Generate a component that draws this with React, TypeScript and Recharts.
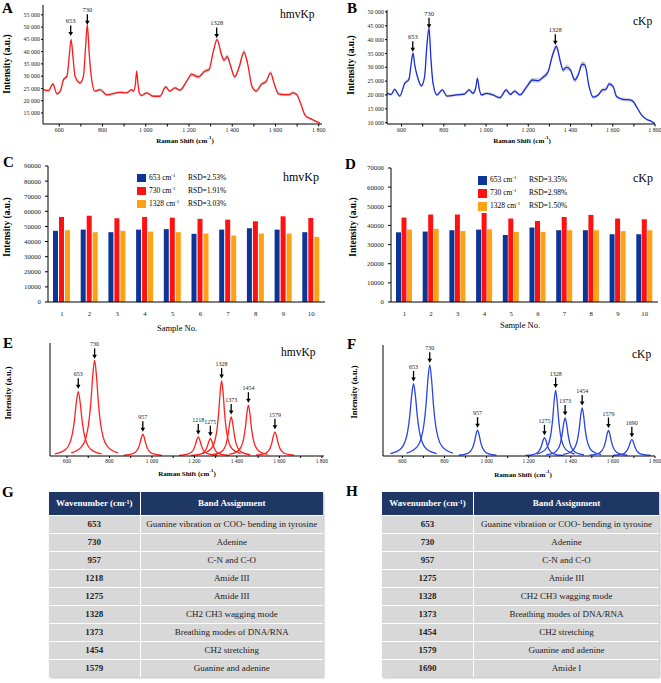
import React from 'react'
import { ComposedChart, BarChart, Line, Area, Bar, XAxis, YAxis, ReferenceDot } from 'recharts'

const SERIF = '"Liberation Serif", "Times New Roman", serif'

// ---- A / B : mean Raman spectra (± SD band) ----
const ramanShiftA = [
  525, 551, 571, 589, 605, 620, 636, 646, 655, 664,
  673, 697, 712, 722, 730, 738, 750, 765, 789, 820,
  881, 912, 935, 943, 952, 958, 964, 970, 981, 1004,
  1035, 1066, 1092, 1112, 1135, 1158, 1189, 1212, 1243, 1273,
  1293, 1311, 1330, 1350, 1362, 1377, 1393, 1411, 1431, 1454,
  1472, 1491, 1511, 1534, 1557, 1577, 1595, 1614, 1634, 1664,
  1680, 1698, 1718, 1738, 1764, 1787, 1805,
]
const hmvMean = [
  24500, 24100, 26800, 22800, 23900, 28600, 30000, 38000, 44900, 37500,
  30000, 27300, 30000, 42000, 51000, 40000, 28600, 23900, 24500, 22400,
  23400, 23200, 24500, 23900, 26500, 32000, 27000, 23200, 22100, 23200,
  21800, 21800, 25600, 23900, 25200, 24300, 27900, 30700, 29700, 32000,
  32700, 39500, 44900, 38800, 36500, 37900, 34000, 29700, 33400, 39800,
  34700, 25900, 23900, 26600, 27900, 31300, 26600, 22800, 22500, 22500,
  23200, 22500, 18400, 13900, 12600, 11600, 10900,
]
const hmvSd = [
  500, 500, 600, 500, 500, 600, 700, 900, 1000, 900,
  700, 600, 700, 900, 1000, 900, 600, 500, 500, 500,
  500, 500, 500, 500, 600, 700, 600, 500, 500, 500,
  500, 500, 600, 500, 600, 600, 700, 800, 800, 800,
  800, 900, 1000, 900, 900, 1000, 900, 800, 900, 1100,
  900, 700, 600, 700, 700, 800, 700, 600, 600, 600,
  600, 600, 500, 400, 400, 300, 300,
]

const ramanShiftB = [
  531, 551, 567, 591, 615, 635, 645, 654, 663, 673,
  694, 709, 720, 730, 739, 749, 768, 793, 815, 860,
  899, 920, 938, 951, 959, 967, 978, 1002, 1033, 1065,
  1096, 1115, 1136, 1160, 1191, 1220, 1247, 1270, 1294, 1313,
  1333, 1352, 1365, 1381, 1400, 1420, 1436, 1455, 1468, 1488,
  1507, 1531, 1551, 1567, 1583, 1602, 1618, 1649, 1681, 1697,
  1712, 1736, 1760, 1784, 1799,
]
const ckpMean = [
  20600, 20200, 22000, 19600, 24200, 25700, 31000, 35100, 30500, 27200,
  23300, 26600, 38000, 44100, 33000, 24200, 20000, 21800, 19600, 20000,
  20400, 21800, 20600, 22500, 26000, 22500, 20000, 20600, 20000, 19000,
  21800, 20200, 21400, 20000, 22800, 25400, 25200, 26400, 28400, 33900,
  37500, 32000, 29000, 30000, 29000, 25400, 27200, 31100, 30800, 23000,
  19200, 20000, 21800, 22000, 24000, 23000, 19400, 18400, 18200, 17600,
  15800, 12800, 11200, 10400, 9600,
]
const ckpSd = [
  500, 500, 500, 500, 600, 700, 800, 900, 800, 700,
  600, 700, 900, 1000, 900, 600, 500, 500, 500, 500,
  500, 500, 500, 600, 700, 600, 500, 500, 500, 500,
  600, 500, 600, 500, 700, 800, 800, 800, 900, 1000,
  1100, 1000, 900, 1000, 900, 800, 900, 1100, 1000, 800,
  600, 600, 700, 700, 800, 700, 600, 600, 600, 600,
  500, 400, 300, 300, 300,
]

const ramanTicks = [600, 700, 800, 900, 1000, 1100, 1200, 1300, 1400, 1500, 1600, 1700, 1800]
const ticksA = [15000, 20000, 25000, 30000, 35000, 40000, 45000, 50000, 55000]
const ticksB = [10000, 15000, 20000, 25000, 30000, 35000, 40000, 45000, 50000]

// arrow annotations: [wavenumber, arrow tip intensity]
const annA = [[653, 46400], [730, 50900], [1328, 45600]]
const annB = [[653, 35650], [730, 44100], [1328, 38100]]

// ---- C / D : repeatability over 10 samples ----
const sampleNo = ['1', '2', '3', '4', '5', '6', '7', '8', '9', '10']
const hmv653 = [47100, 47900, 46200, 47900, 48200, 45100, 47900, 48800, 47900, 46200]
const hmv730 = [56300, 57100, 55400, 56300, 55800, 55000, 54500, 53400, 56700, 55600]
const hmv1328 = [47500, 46200, 47100, 46600, 46200, 45300, 44000, 45300, 45300, 43100]
const ckp653 = [36400, 36800, 37500, 37800, 35000, 38900, 37500, 37500, 35400, 35400]
const ckp730 = [44100, 45700, 45700, 46500, 43600, 42300, 44400, 45500, 43600, 43200]
const ckp1328 = [37800, 38200, 37100, 38000, 36600, 36600, 37500, 37500, 37000, 37500]
const hmvRsd = ['RSD=2.53%', 'RSD=1.91%', 'RSD=3.03%']
const ckpRsd = ['RSD=3.35%', 'RSD=2.98%', 'RSD=1.50%']
const bandNames = ['653', '730', '1328']

// ---- E / F : fitted characteristic peaks ----
const hmvP653 = [[543, .018], [593, .057], [613, .114], [625, .193], [635, .315], [644, .475], [653, .57], [662, .475], [671, .315], [681, .193], [693, .114], [713, .057], [763, .018]]
const hmvP730 = [[620, .027], [670, .085], [690, .169], [702, .286], [712, .466], [721, .703], [730, .845], [739, .703], [748, .466], [758, .286], [770, .169], [790, .085], [840, .027]]
const hmvP957 = [[867, .006], [907, .018], [925, .039], [935, .067], [943, .109], [950, .162], [957, .193], [964, .162], [971, .109], [979, .067], [989, .039], [1007, .018], [1047, .006]]
const hmvP1218 = [[1128, .005], [1168, .016], [1186, .034], [1196, .058], [1204, .096], [1211, .142], [1218, .169], [1225, .142], [1232, .096], [1240, .058], [1250, .034], [1268, .016], [1308, .005]]
const hmvP1275 = [[1185, .005], [1225, .014], [1243, .031], [1253, .054], [1261, .088], [1268, .13], [1275, .155], [1282, .13], [1289, .088], [1297, .054], [1307, .031], [1325, .014], [1365, .005]]
const hmvP1328 = [[1238, .021], [1278, .062], [1296, .133], [1306, .231], [1314, .378], [1321, .56], [1328, .667], [1335, .56], [1342, .378], [1350, .231], [1360, .133], [1378, .062], [1418, .021]]
const hmvP1373 = [[1283, .011], [1323, .032], [1341, .069], [1351, .12], [1359, .196], [1366, .291], [1373, .347], [1380, .291], [1387, .196], [1395, .12], [1405, .069], [1423, .032], [1463, .011]]
const hmvP1454 = [[1364, .014], [1404, .042], [1422, .09], [1432, .156], [1440, .255], [1447, .379], [1454, .451], [1461, .379], [1468, .255], [1476, .156], [1486, .09], [1504, .042], [1544, .014]]
const hmvP1579 = [[1489, .007], [1529, .02], [1547, .043], [1557, .074], [1565, .121], [1572, .18], [1579, .214], [1586, .18], [1593, .121], [1601, .074], [1611, .043], [1629, .02], [1669, .007]]

const ckpP653 = [[543, .021], [593, .065], [613, .13], [625, .22], [635, .359], [644, .542], [653, .651], [662, .542], [671, .359], [681, .22], [693, .13], [713, .065], [763, .021]]
const ckpP730 = [[620, .026], [670, .082], [690, .164], [702, .277], [712, .453], [721, .683], [730, .821], [739, .683], [748, .453], [758, .277], [770, .164], [790, .082], [840, .026]]
const ckpP957 = [[867, .007], [907, .022], [925, .047], [935, .081], [943, .132], [950, .196], [957, .233], [964, .196], [971, .132], [979, .081], [989, .047], [1007, .022], [1047, .007]]
const ckpP1275 = [[1185, .005], [1225, .015], [1243, .033], [1253, .057], [1261, .093], [1268, .139], [1275, .165], [1282, .139], [1289, .093], [1297, .057], [1307, .033], [1325, .015], [1365, .005]]
const ckpP1328 = [[1238, .018], [1278, .055], [1296, .118], [1306, .204], [1314, .335], [1321, .496], [1328, .591], [1335, .496], [1342, .335], [1350, .204], [1360, .118], [1378, .055], [1418, .018]]
const ckpP1373 = [[1283, .011], [1323, .032], [1341, .069], [1351, .119], [1359, .195], [1366, .289], [1373, .344], [1380, .289], [1387, .195], [1395, .119], [1405, .069], [1423, .032], [1463, .011]]
const ckpP1454 = [[1364, .013], [1404, .04], [1422, .087], [1432, .15], [1440, .245], [1447, .364], [1454, .433], [1461, .364], [1468, .245], [1476, .15], [1486, .087], [1504, .04], [1544, .013]]
const ckpP1579 = [[1489, .007], [1529, .021], [1547, .046], [1557, .08], [1565, .13], [1572, .193], [1579, .23], [1586, .193], [1593, .13], [1601, .08], [1611, .046], [1629, .021], [1669, .007]]
const ckpP1690 = [[1600, .005], [1640, .014], [1658, .03], [1668, .052], [1676, .085], [1683, .126], [1690, .15], [1697, .126], [1704, .085], [1712, .052], [1722, .03], [1740, .014], [1780, .005]]

const hmvPeaks = [hmvP653, hmvP730, hmvP957, hmvP1218, hmvP1275, hmvP1328, hmvP1373, hmvP1454, hmvP1579]
const ckpPeaks = [ckpP653, ckpP730, ckpP957, ckpP1275, ckpP1328, ckpP1373, ckpP1454, ckpP1579, ckpP1690]
const annE = [[653, .595], [730, .86], [957, .215], [1218, .19], [1275, .175], [1328, .685], [1373, .367], [1454, .472], [1579, .236]]
const annF = [[653, .672], [730, .84], [957, .255], [1275, .186], [1328, .612], [1373, .365], [1454, .455], [1579, .252], [1690, .17]]

// ---- G / H : band assignment tables ----
const bandsG = ['653', '730', '957', '1218', '1275', '1328', '1373', '1454', '1579']
const assignG = [
  'Guanine vibration or COO- bending in tyrosine', 'Adenine', 'C-N and C-O', 'Amide III', 'Amide III',
  'CH2 CH3 wagging mode', 'Breathing modes of DNA/RNA', 'CH2 stretching', 'Guanine and adenine',
]
const bandsH = ['653', '730', '957', '1275', '1328', '1373', '1454', '1579', '1690']
const assignH = [
  'Guanine vibration or COO- bending in tyrosine', 'Adenine', 'C-N and C-O', 'Amide III',
  'CH2 CH3 wagging mode', 'Breathing modes of DNA/RNA', 'CH2 stretching', 'Guanine and adenine', 'Amide I',
]

// non-breaking space so recharts does not wrap "55 000" onto two lines
const spaced = (n: number) => String(n).replace(/\B(?=(\d{3})+(?!\d))/g, '\u00a0')

function arrowShape(label: string, fontSize: number) {
  return (p: any) => {
    const { cx, cy } = p
    if (cx == null || cy == null) return <g />
    return (
      <g>
        <text x={cx} y={cy - 12.5} textAnchor="middle" fontSize={fontSize} fontFamily={SERIF} fill="#222">{label}</text>
        <line x1={cx} y1={cy - 10.5} x2={cx} y2={cy - 3} stroke="#000" strokeWidth={1.3} />
        <path d={`M${cx - 2.3} ${cy - 4}L${cx + 2.3} ${cy - 4}L${cx} ${cy}Z`} fill="#000" />
      </g>
    )
  }
}

const abs = (left: number, top: number): React.CSSProperties => ({ position: 'absolute', left, top })

function PanelLetter({ left, top, text }: { left: number; top: number; text: string }) {
  return <div style={{ ...abs(left, top), fontFamily: SERIF, fontWeight: 'bold', fontSize: 15, lineHeight: '15px' }}>{text}</div>
}

function YLabel({ cx, cy, size = 9.5 }: { cx: number; cy: number; size?: number }) {
  return (
    <div style={{ ...abs(cx, cy), transform: 'translate(-50%,-50%) rotate(-90deg)', whiteSpace: 'nowrap', fontFamily: SERIF, fontWeight: 'bold', fontSize: size, lineHeight: 1 }}>
      Intensity (a.u.)
    </div>
  )
}

function XLabel({ cx, cy, children, bold = true, size = 7 }: any) {
  return (
    <div style={{ ...abs(cx, cy), transform: 'translate(-50%,-50%)', whiteSpace: 'nowrap', fontFamily: SERIF, fontWeight: bold ? 'bold' : 'normal', fontSize: size, lineHeight: 1 }}>
      {children}
    </div>
  )
}

function Title({ left, cy, text, size = 11.5 }: { left: number; cy: number; text: string; size?: number }) {
  return <div style={{ ...abs(left, cy - size / 2), fontFamily: SERIF, fontSize: size, lineHeight: `${size}px`, whiteSpace: 'nowrap' }}>{text}</div>
}

const smallTick = { fontSize: 6, fontFamily: SERIF, fill: '#222' }

function SpectrumChart({ left, top, width, height, margin, xs, mean, sd, color, xDomain, yDomain, yTicks, ann }: any) {
  const data = xs.map((x: number, i: number) => ({ x, y: mean[i], band: [mean[i] - sd[i], mean[i] + sd[i]] }))
  return (
    <div style={abs(left, top)}>
      <ComposedChart width={width} height={height} data={data} margin={margin}>
        <XAxis dataKey="x" type="number" domain={xDomain} allowDataOverflow ticks={ramanTicks} interval={0}
          tickFormatter={(v: number) => (v % 200 === 0 ? spaced(v) : '')}
          tick={smallTick} tickSize={2.5} tickMargin={1} height={11} stroke="#000" />
        <XAxis xAxisId="top" orientation="top" dataKey="x" type="number" domain={xDomain} allowDataOverflow
          tick={false} tickLine={false} height={0} stroke="#8a8a8a" />
        <YAxis type="number" domain={yDomain} allowDataOverflow ticks={yTicks} interval={0} tickFormatter={spaced}
          tick={smallTick} tickSize={2} tickMargin={1} width={30} stroke="#000" />
        <YAxis yAxisId="right" orientation="right" type="number" domain={yDomain} tick={false} tickLine={false} width={0} stroke="#6a6a6a" />
        <Area dataKey="band" type="monotone" stroke="none" fill="#c6c6cc" fillOpacity={0.9} isAnimationActive={false} />
        <Line dataKey="y" type="monotone" stroke={color} strokeWidth={1.3} dot={false} isAnimationActive={false} />
        {ann.map(([ax, ay]: number[]) => (
          <ReferenceDot key={ax} x={ax} y={ay} shape={arrowShape(String(ax), 6.5)} />
        ))}
      </ComposedChart>
    </div>
  )
}

const BAR_COLORS = ['#0b3597', '#ff1111', '#ffa114']

function BarPanel({ left, top, width, height, margin, yMax, yTicks, s1, s2, s3, gap }: any) {
  const data = sampleNo.map((n, i) => ({ n, a: s1[i], b: s2[i], c: s3[i] }))
  const tick = { fontSize: 6.8, fontFamily: SERIF, fill: '#222' }
  return (
    <div style={abs(left, top)}>
      <BarChart width={width} height={height} data={data} margin={margin} barSize={5} barGap={gap}>
        <XAxis dataKey="n" tick={tick} tickLine={false} height={14} stroke="#000" tickMargin={3} interval={0} />
        <XAxis xAxisId="top" orientation="top" dataKey="n" tick={false} tickLine={false} height={0} stroke="#555" />
        <YAxis domain={[0, yMax]} ticks={yTicks} interval={0} tick={tick} tickSize={3} tickMargin={4} width={34} stroke="#000" />
        <YAxis yAxisId="right" orientation="right" domain={[0, yMax]} tick={false} tickLine={false} width={0} stroke="#555" />
        <Bar dataKey="a" fill={BAR_COLORS[0]} isAnimationActive={false} />
        <Bar dataKey="b" fill={BAR_COLORS[1]} isAnimationActive={false} />
        <Bar dataKey="c" fill={BAR_COLORS[2]} isAnimationActive={false} />
      </BarChart>
    </div>
  )
}

function BarLegend({ left, top, textLeft, rsdLeft, rsd }: any) {
  return (
    <>
      {bandNames.map((b, i) => (
        <React.Fragment key={b}>
          <div style={{ ...abs(left, top + i * 13), width: 9, height: 8.5, background: BAR_COLORS[i] }} />
          <div style={{ ...abs(textLeft, top + i * 13 - 1), fontFamily: SERIF, fontSize: 7.5, lineHeight: '10px', whiteSpace: 'nowrap' }}>
            {b} cm<sup style={{ fontSize: 5, verticalAlign: 'top', lineHeight: '6px' }}>-1</sup>
          </div>
          <div style={{ ...abs(rsdLeft, top + i * 13 - 1), fontFamily: SERIF, fontSize: 7.5, lineHeight: '10px', whiteSpace: 'nowrap' }}>{rsd[i]}</div>
        </React.Fragment>
      ))}
    </>
  )
}

function PeakChart({ left, top, width, height, margin, peaks, color, xDomain, ann }: any) {
  return (
    <div style={abs(left, top)}>
      <ComposedChart width={width} height={height} margin={margin}>
        <XAxis dataKey="x" type="number" domain={xDomain} allowDataOverflow ticks={ramanTicks} interval={0}
          tickFormatter={(v: number) => (v % 200 === 0 ? spaced(v) : '')}
          tick={{ fontSize: 5.5, fontFamily: SERIF, fill: '#222' }} tickSize={2} tickMargin={1} height={9} stroke="#000" />
        <XAxis xAxisId="top" orientation="top" dataKey="x" type="number" domain={xDomain} tick={false} tickLine={false} height={0} stroke="#555" />
        <YAxis type="number" domain={[0, 1]} tick={false} tickLine={false} width={1} stroke="#000" />
        <YAxis yAxisId="right" orientation="right" type="number" domain={[0, 1]} tick={false} tickLine={false} width={0} stroke="#555" />
        {peaks.map((pk: number[][], i: number) => (
          <Line key={i} data={pk.map(([x, y]) => ({ x, y }))} dataKey="y" type="monotone" stroke={color}
            strokeWidth={1.3} dot={false} isAnimationActive={false} />
        ))}
        {ann.map(([ax, ay]: number[]) => (
          <ReferenceDot key={ax} x={ax} y={ay} shape={arrowShape(String(ax), 6)} />
        ))}
      </ComposedChart>
    </div>
  )
}

function BandTable({ left, top, width, col1, bands, assign }: any) {
  const cell: React.CSSProperties = { fontFamily: SERIF, fontSize: 9, textAlign: 'center', padding: 0, color: '#222' }
  return (
    <table style={{ ...abs(left, top), width, borderCollapse: 'collapse', tableLayout: 'fixed', boxShadow: '1px 1px 2px #bbb' }}>
      <colgroup>
        <col style={{ width: col1 }} />
        <col />
      </colgroup>
      <thead>
        <tr style={{ height: 23, background: '#1f3765' }}>
          <th style={{ ...cell, color: '#fff', fontWeight: 'bold', borderRight: '1px solid #fff' }}>
            Wavenumber (cm<sup style={{ fontSize: 6, verticalAlign: 'top', lineHeight: '8px' }}>-1</sup>)
          </th>
          <th style={{ ...cell, color: '#fff', fontWeight: 'bold' }}>Band Assignment</th>
        </tr>
      </thead>
      <tbody>
        {bands.map((b: string, i: number) => (
          <tr key={b} style={{ height: 18, background: '#d8d8d8', borderTop: '1px solid #fff' }}>
            <td style={{ ...cell, fontWeight: 'bold', borderRight: '1px solid #fff' }}>{b}</td>
            <td style={cell}>{assign[i]}</td>
          </tr>
        ))}
      </tbody>
    </table>
  )
}

export default function App() {
  return (
    <div style={{ position: 'absolute', left: 0, top: 0, width: 661, height: 683, background: '#fff', overflow: 'hidden' }}>
      {/* A */}
      <SpectrumChart left={0} top={0} width={330} height={135} margin={{ top: 5, right: 8, bottom: 0, left: 13 }}
        xs={ramanShiftA} mean={hmvMean} sd={hmvSd} color="#ff1a1a" xDomain={[525, 1815]} yDomain={[10500, 59000]} yTicks={ticksA} ann={annA} />
      <PanelLetter left={2} top={1} text="A" />
      <YLabel cx={7.5} cy={64} />
      <XLabel cx={185} cy={140}>Raman Shift (cm<sup style={{ fontSize: 5 }}>-1</sup>)</XLabel>
      <Title left={280} cy={15} text="hmvKp" />

      {/* B */}
      <SpectrumChart left={330} top={0} width={331} height={135} margin={{ top: 10, right: 6, bottom: 0, left: 27 }}
        xs={ramanShiftB} mean={ckpMean} sd={ckpSd} color="#1a2ee0" xDomain={[531, 1800]} yDomain={[9500, 50700]} yTicks={ticksB} ann={annB} />
      <PanelLetter left={347} top={1} text="B" />
      <YLabel cx={352} cy={65} />
      <XLabel cx={522} cy={140}>Raman Shift (cm<sup style={{ fontSize: 5 }}>-1</sup>)</XLabel>
      <Title left={633} cy={22} text="cKp" />

      {/* C */}
      <BarPanel left={0} top={140} width={330} height={176} margin={{ top: 26, right: 5, bottom: 0, left: 14 }}
        yMax={90000} yTicks={[0, 10000, 20000, 30000, 40000, 50000, 60000, 70000, 80000, 90000]}
        s1={hmv653} s2={hmv730} s3={hmv1328} gap={1} />
      <BarLegend left={137} top={173.5} textLeft={149} rsdLeft={188} rsd={hmvRsd} />
      <PanelLetter left={3} top={155} text="C" />
      <YLabel cx={7.5} cy={227} />
      <XLabel cx={177} cy={328} bold={false} size={8.5}>Sample No.</XLabel>
      <Title left={283} cy={177} text="hmvKp" size={12} />

      {/* D */}
      <BarPanel left={330} top={140} width={331} height={176} margin={{ top: 28, right: 3, bottom: 0, left: 27 }}
        yMax={70000} yTicks={[0, 10000, 20000, 30000, 40000, 50000, 60000, 70000]}
        s1={ckp653} s2={ckp730} s3={ckp1328} gap={0.5} />
      <BarLegend left={478} top={176} textLeft={490} rsdLeft={529} rsd={ckpRsd} />
      <PanelLetter left={345} top={157} text="D" />
      <YLabel cx={354} cy={227} />
      <XLabel cx={520} cy={325} bold={false} size={8.5}>Sample No.</XLabel>
      <Title left={633} cy={178} text="cKp" size={12} />

      {/* E */}
      <PeakChart left={0} top={330} width={330} height={135} margin={{ top: 13, right: 6, bottom: 0, left: 49 }}
        peaks={hmvPeaks} color="#ff2020" xDomain={[520, 1810]} ann={annE} />
      <PanelLetter left={3} top={336} text="E" />
      <YLabel cx={7.5} cy={393} size={8.5} />
      <XLabel cx={187} cy={473}>Raman Shift (cm<sup style={{ fontSize: 5 }}>-1</sup>)</XLabel>
      <Title left={281} cy={353} text="hmvKp" />

      {/* F */}
      <PeakChart left={330} top={330} width={331} height={135} margin={{ top: 15, right: 6, bottom: 0, left: 52 }}
        peaks={ckpPeaks} color="#2a45e0" xDomain={[508, 1800]} ann={annF} />
      <PanelLetter left={347} top={337} text="F" />
      <YLabel cx={354} cy={392} size={8.5} />
      <XLabel cx={523} cy={474}>Raman Shift (cm<sup style={{ fontSize: 5 }}>-1</sup>)</XLabel>
      <Title left={632} cy={355} text="cKp" />

      {/* G / H */}
      <PanelLetter left={2} top={485} text="G" />
      <BandTable left={49} top={492} width={274} col1={91} bands={bandsG} assign={assignG} />
      <PanelLetter left={346} top={484} text="H" />
      <BandTable left={382} top={492} width={277} col1={91.5} bands={bandsH} assign={assignH} />
    </div>
  )
}
